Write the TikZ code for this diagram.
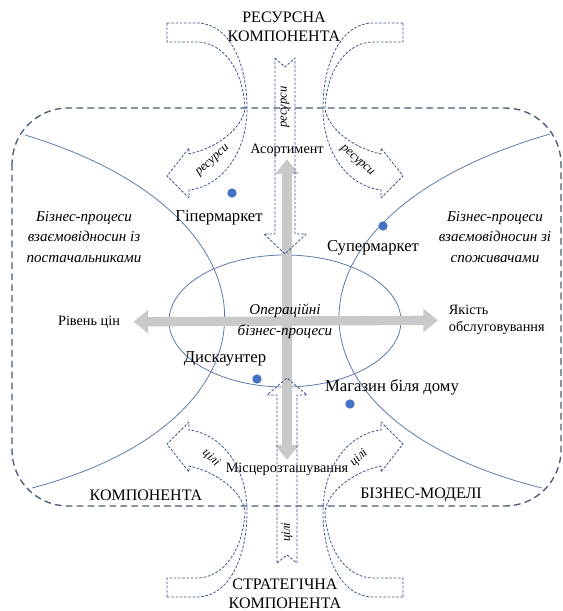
\documentclass[tikz,border=0pt]{standalone}
\usepackage{fontspec}
\setmainfont{Liberation Serif}
\usetikzlibrary{arrows.meta}

\definecolor{framecol}{HTML}{4A5A78}
\definecolor{curvecol}{HTML}{5E7BA8}
\definecolor{arrowcol}{HTML}{3E5686}
\definecolor{dotcol}{HTML}{4472C4}
\definecolor{greycol}{HTML}{C9C9C9}

\begin{document}
\begin{tikzpicture}[x=0.75pt, y=-0.75pt,
  frame/.style={draw=framecol, line width=1pt, dash pattern=on 5pt off 3.2pt},
  contour/.style={draw=curvecol, line width=0.6pt},
  blockarr/.style={draw=arrowcol, line width=0.6pt, dash pattern=on 2pt off 1.2pt, line join=round},
  greyarr/.style={draw=greycol, line width=7pt, {Triangle[length=11pt,width=17pt]}-{Triangle[length=11pt,width=17pt]}},
  dot/.style={circle, fill=dotcol, inner sep=0pt, minimum size=7pt},
  caps/.style={font=\fontsize{12}{14}\selectfont, align=center, inner sep=1pt},
  shop/.style={font=\fontsize{12.5}{14}\selectfont, inner sep=1pt},
  proc/.style={font=\fontsize{11.3}{15.5}\selectfont\itshape, align=center, inner sep=1pt},
  axis/.style={font=\fontsize{10.7}{13}\selectfont, inner sep=2pt},
  inarr/.style={font=\fontsize{9.5}{10}\selectfont\itshape, inner sep=0pt},
  % вигнута стрілка: хвіст угорі, вістря ліворуч унизу
  curvedarrow/.pic={
    \draw[blockarr] (0,-85) -- (30,-85) .. controls (62,-85) and (80,-45) .. (80,0)
      .. controls (80,45) and (55,78) .. (22,82)
      -- (22,90) -- (0,68) -- (22,40) -- (22,46)
      .. controls (50,40) and (76,20) .. (78,0)
      .. controls (76,-40) and (55,-66) .. (30,-66) -- (0,-66) -- cycle;
  }]
\useasboundingbox (0,0) rectangle (562,611);

% рамка бізнес-моделі
\draw[frame, rounded corners=42pt] (12,108) rectangle (561,506);

% бізнес-процеси
\draw[contour] (25,135) .. controls (290,215) and (290,420) .. (32,488);
\draw[contour] (550,134) .. controls (270,215) and (270,420) .. (542,488);
\draw[contour] (285,321) ellipse [x radius=116, y radius=66];

% осі
\node[axis] (asort) at (287,150) {Асортимент};
\node[axis] (mists) at (287,469) {Місцерозташування};
\node[axis] (riven) at (89,322) {Рівень цін};
\node[axis, align=left, anchor=west] (yakist) at (446,320) {Якість\\обслуговування};
\draw[greyarr] (asort) -- (mists);
\draw[greyarr, shorten <=8pt, shorten >=6pt] (riven) -- (yakist);

% ресурсна компонента
\node[caps] (resurs) at (284,27) {РЕСУРСНА\\КОМПОНЕНТА};
\pic at (167,108) {curvedarrow};
\pic[xscale=-1] at (403,108) {curvedarrow};
\draw[blockarr] (275,58) -- (285,67) -- (295,58) -- (295,234) -- (306,234)
  -- (285,254) -- (264,234) -- (275,234) -- cycle;
\node[inarr, rotate=90] (res1) at (285,107) {ресурси};
\node[inarr, rotate=42] (res2) at (213,161) {ресурси};
\node[inarr, rotate=-42] (res3) at (357,161) {ресурси};

% стратегічна компонента
\node[caps] (strat) at (285,594) {СТРАТЕГІЧНА\\КОМПОНЕНТА};
\pic[yscale=-1] at (167,512) {curvedarrow};
\pic[xscale=-1, yscale=-1] at (403,512) {curvedarrow};
\draw[blockarr] (277,563) -- (287,555) -- (297,563) -- (297,395) -- (307,395)
  -- (287,378) -- (267,395) -- (277,395) -- cycle;
\node[inarr, rotate=90] (cili1) at (287,532) {цілі};
\node[inarr, rotate=-42] (cili2) at (211,458) {цілі};
\node[inarr, rotate=42] (cili3) at (359,458) {цілі};

% підписи рамки
\node[caps] (komp) at (146,495) {КОМПОНЕНТА};
\node[caps] (bizmod) at (421,495) {БІЗНЕС-МОДЕЛІ};

% процеси
\node[proc] (postach) at (84,237) {Бізнес-процеси\\взаємовідносин із\\постачальниками};
\node[proc] (spozh) at (495,237) {Бізнес-процеси\\взаємовідносин зі\\споживачами};
\node[proc] (oper) at (285,321) {Операційні\\бізнес-процеси};

% формати
\node[dot] (d1) at (232,193) {};
\node[shop] (hiper) at (219,218) {Гіпермаркет};
\node[dot] (d2) at (383,226) {};
\node[shop] (super) at (373,248) {Супермаркет};
\node[shop] (disk) at (225,359) {Дискаунтер};
\node[dot] (d3) at (257,379) {};
\node[shop] (mahaz) at (392,387) {Магазин біля дому};
\node[dot] (d4) at (350,404) {};
\end{tikzpicture}
\end{document}
